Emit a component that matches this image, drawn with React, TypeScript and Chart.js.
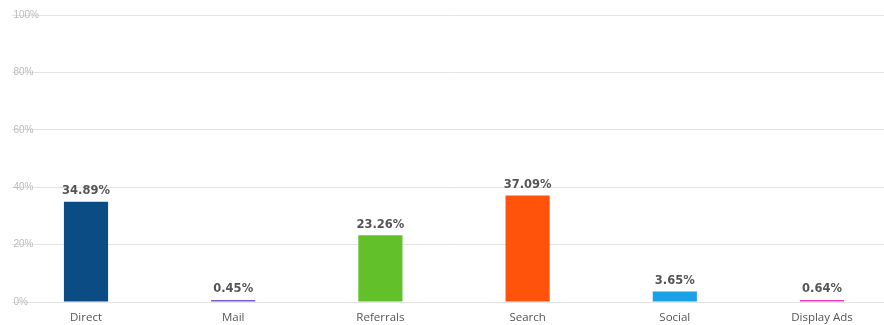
import React, { useEffect, useRef } from "react";
import { Chart, registerables } from "chart.js";

Chart.register(...registerables);

const categories = ["Direct", "Mail", "Referrals", "Search", "Social", "Display Ads"];
const shares = [34.89, 0.45, 23.26, 37.09, 3.65, 0.64];
const barColors = ["#0c4c85", "#7c5ad4", "#62c02a", "#ff520a", "#1ba2e6", "#e83dbf"];
const yTicks = [0, 20, 40, 60, 80, 100];

const valueLabels = {
  id: "valueLabels",
  afterDatasetsDraw(chart: any) {
    const ctx = chart.ctx;
    const meta = chart.getDatasetMeta(0);
    ctx.save();
    ctx.font = "bold 11.5px 'DejaVu Sans', sans-serif";
    ctx.fillStyle = "#555555";
    ctx.textAlign = "center";
    ctx.textBaseline = "middle";
    meta.data.forEach((bar: any, i: number) => {
      const v = chart.data.datasets[0].data[i];
      ctx.fillText(v.toFixed(2) + "%", bar.x, bar.y - 10.5);
    });
    ctx.restore();
  },
};

export default function App() {
  const ref = useRef<HTMLCanvasElement>(null);
  useEffect(() => {
    if (!ref.current) return;
    const chart = new Chart(ref.current, {
      type: "bar",
      data: {
        labels: categories,
        datasets: [
          {
            data: shares,
            backgroundColor: barColors,
            borderWidth: 0,
            barPercentage: 0.3,
            categoryPercentage: 1,
            minBarLength: 2,
          },
        ],
      },
      options: {
        animation: false,
        responsive: true,
        maintainAspectRatio: false,
        layout: { padding: { left: 12.4, right: 4.4, top: 15, bottom: 0 } },
        plugins: { legend: { display: false }, tooltip: { enabled: false } },
        scales: {
          x: {
            grid: { display: false, drawTicks: false },
            border: { display: false },
            ticks: {
              color: "#555555",
              font: { family: "'Open Sans', sans-serif", size: 11.5 },
              padding: 9,
              maxRotation: 0,
              autoSkip: false,
            },
            afterFit(scale: any) {
              scale.height = 23;
            },
          },
          y: {
            min: 0,
            max: 100,
            afterBuildTicks(scale: any) {
              scale.ticks = yTicks.map((v) => ({ value: v }));
            },
            grid: { color: "#e4e4e4", drawTicks: false, lineWidth: 1 },
            border: { display: false },
            ticks: {
              mirror: true,
              padding: 1,
              color: "#bbbbbb",
              font: { family: "'Liberation Sans', Arial, sans-serif", size: 10 },
              callback: (v: any) => v + "%",
            },
            afterFit(scale: any) {
              scale.width = 0;
            },
          },
        },
      },
      plugins: [valueLabels],
    });
    return () => chart.destroy();
  }, []);

  return (
    <div
      style={{
        position: "fixed",
        left: 0,
        top: 0,
        width: 884,
        height: 325,
        overflow: "hidden",
        background: "#ffffff",
      }}
    >
      <div style={{ position: "relative", width: 900, height: 325 }}>
        <canvas ref={ref} />
      </div>
    </div>
  );
}
